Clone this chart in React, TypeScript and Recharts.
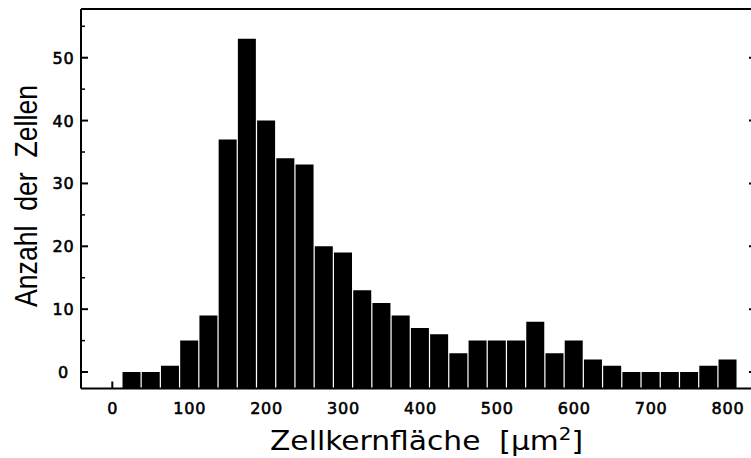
import React from "react";
import { BarChart, Bar, XAxis, YAxis } from "recharts";

// Histogram bin centres (µm²) and cell counts
const binCenters = [25, 50, 75, 100, 125, 150, 175, 200, 225, 250, 275, 300, 325, 350, 375, 400, 425, 450, 475, 500, 525, 550, 575, 600, 625, 650, 675, 700, 725, 750, 775, 800];
const counts = [0, 0, 1, 5, 9, 37, 53, 40, 34, 33, 20, 19, 13, 11, 9, 7, 6, 3, 5, 5, 5, 8, 3, 5, 2, 1, 0, 0, 0, 0, 1, 2];

const xMajorTicks = [0, 100, 200, 300, 400, 500, 600, 700, 800];
const xMinorTicks = [50, 150, 250, 350, 450, 550, 650, 750];
const yMajorTicks = [0, 10, 20, 30, 40, 50];
const yMinorTicks = [5, 15, 25, 35, 45, 55];

const X_DOMAIN: [number, number] = [-40.7, 837];
const Y_DOMAIN: [number, number] = [-2.62, 57.75];

const xTitle = "Zellkernfläche  [µm";
const xTitleSup = "2";
const xTitleEnd = "]";
const yTitle = "Anzahl  der  Zellen";

const data = binCenters.map((c, i) => ({ center: c, count: counts[i] }));
const xAllTicks = [...xMajorTicks, ...xMinorTicks].sort((a, b) => a - b);
const yAllTicks = [...yMajorTicks, ...yMinorTicks].sort((a, b) => a - b);

const TICK_FONT = "'DejaVu Sans', sans-serif";
const MAJOR_LEN = 7;
const MINOR_LEN = 4;

const labelProps = {
  fontFamily: TICK_FONT,
  fontSize: 16,
  fill: "#000",
  stroke: "#000",
  strokeWidth: 0.6,
  letterSpacing: 0.8,
  textAnchor: "middle" as const,
};

const makeTick = (side: "bottom" | "top" | "left" | "right", majors: number[]) => (props: any) => {
  const { x, y, payload } = props;
  const major = majors.includes(payload.value);
  const len = major ? MAJOR_LEN : MINOR_LEN;
  const sw = major ? 2 : 1.5;
  let x2 = x, y2 = y;
  if (side === "bottom") y2 = y - len;
  if (side === "top") y2 = y + len;
  if (side === "left") x2 = x + len;
  if (side === "right") x2 = x - len;
  return (
    <g>
      <line x1={x} y1={y} x2={x2} y2={y2} stroke="#000" strokeWidth={sw} />
      {major && side === "bottom" && (
        <text x={x + 0.5} y={y + 25} {...labelProps}>
          {payload.value}
        </text>
      )}
      {major && side === "left" && (
        <text x={x - 17.5} y={y + 6} {...labelProps}>
          {payload.value}
        </text>
      )}
    </g>
  );
};

const BottomTick = makeTick("bottom", xMajorTicks);
const TopTick = makeTick("top", xMajorTicks);
const LeftTick = makeTick("left", yMajorTicks);
const RightTick = makeTick("right", yMajorTicks);

const axisLine = { stroke: "#000", strokeWidth: 2 };

export default function App() {
  return (
    <div style={{ position: "absolute", left: 0, top: 0, width: 751, height: 458, overflow: "hidden", background: "#fff" }}>
      <BarChart
        width={760}
        height={458}
        data={data}
        margin={{ top: 0, right: 0, bottom: 0, left: 0 }}
        barCategoryGap={0.6}
      >
        <XAxis xAxisId="x" dataKey="center" type="number" domain={X_DOMAIN} allowDataOverflow ticks={xAllTicks} interval={0} height={69.5} tickSize={0} tickMargin={0} tickLine={false} axisLine={axisLine} tick={BottomTick} />
        <XAxis xAxisId="top" orientation="top" type="number" domain={X_DOMAIN} allowDataOverflow ticks={xAllTicks} interval={0} height={9} tickSize={0} tickMargin={0} tickLine={false} axisLine={axisLine} tick={TopTick} />
        <YAxis yAxisId="y" type="number" domain={Y_DOMAIN} allowDataOverflow ticks={yAllTicks} interval={0} width={81} tickSize={0} tickMargin={0} tickLine={false} axisLine={axisLine} tick={LeftTick} />
        <YAxis yAxisId="right" orientation="right" type="number" domain={Y_DOMAIN} allowDataOverflow ticks={yAllTicks} interval={0} width={4} tickSize={0} tickMargin={0} tickLine={false} axisLine={axisLine} tick={RightTick} />
        <Bar xAxisId="x" yAxisId="y" dataKey={(d: any) => [Y_DOMAIN[0], d.count]} fill="#000" isAnimationActive={false} />
      </BarChart>
      <svg width={751} height={458} style={{ position: "absolute", left: 0, top: 0, pointerEvents: "none" }}>
        <text x={270} y={450} style={{ whiteSpace: "pre" }} fontFamily="'DejaVu Sans', sans-serif" fontSize={27} fill="#000" textLength={313} lengthAdjust="spacingAndGlyphs">
          {xTitle}
          <tspan dy={-10} fontSize={18}>{xTitleSup}</tspan>
          <tspan dy={10}>{xTitleEnd}</tspan>
        </text>
        <text x={37} y={196} style={{ whiteSpace: "pre" }} transform="rotate(-90, 37, 196)" textAnchor="middle" fontFamily="'Liberation Sans', sans-serif" fontSize={31} fill="#000" textLength={222} lengthAdjust="spacingAndGlyphs">
          {yTitle}
        </text>
      </svg>
    </div>
  );
}
